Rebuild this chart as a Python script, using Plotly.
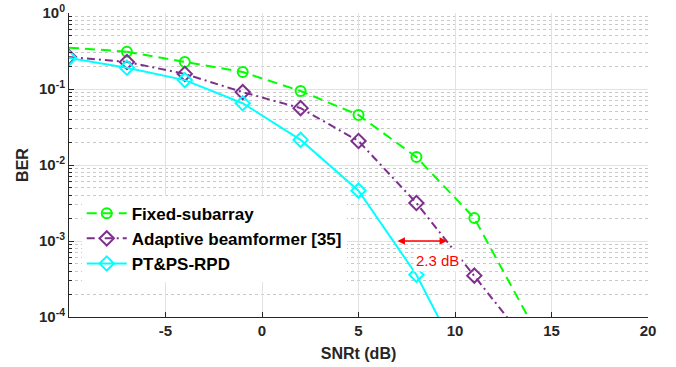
import plotly.graph_objects as go

# ---------------- data ----------------
snr_fixed = [-10, -7, -4, -1, 2, 5, 8, 11, 14]
ber_fixed = [0.35, 0.31, 0.227, 0.167, 0.094, 0.0455, 0.0127, 0.002, 8e-5]

snr_adaptive = [-10, -7, -4, -1, 2, 5, 8, 11, 14]
ber_adaptive = [0.263, 0.227, 0.158, 0.091, 0.056, 0.0207, 0.00316, 3.5e-4, 3.8e-5]

snr_proposed = [-10, -7, -4, -1, 2, 5, 8, 11]
ber_proposed = [0.255, 0.19, 0.131, 0.065, 0.0214, 0.0046, 3.6e-4, 1.2e-5]

names = ["Fixed-subarray", "Adaptive beamformer [35]", "PT&PS-RPD"]

x_ticks = [-5, 0, 5, 10, 15, 20]
x_ticktext = ["-5", "0", "5", "10", "15", "20"]
y_ticks = [1e-4, 1e-3, 1e-2, 1e-1, 1]
y_ticktext = ["10<sup>-4</sup>", "10<sup>-3</sup>", "10<sup>-2</sup>", "10<sup>-1</sup>", "10<sup>0</sup>"]

gap_label = "2.3 dB"
gap_from, gap_to, gap_level = 6.94, 9.59, 1e-3

# ---------------- figure ----------------
GREEN = "#00FF00"
PURPLE = "#7E2F8E"
CYAN = "#00FFFF"
FONT = "Liberation Sans, Arial, sans-serif"
AXC = "#262626"

fig = go.Figure()

# first green segment (no marker at the first point)
fig.add_trace(go.Scatter(
    x=snr_fixed[:2], y=ber_fixed[:2], mode="lines", showlegend=False,
    line=dict(color=GREEN, width=2, dash="10px,6px"), hoverinfo="skip"))

fig.add_trace(go.Scatter(
    x=snr_fixed[1:], y=ber_fixed[1:], mode="lines+markers", name=names[0],
    line=dict(color=GREEN, width=2, dash="10px,6px"),
    marker=dict(symbol="circle-open", size=10, color=GREEN, line=dict(width=2, color=GREEN))))

fig.add_trace(go.Scatter(
    x=snr_adaptive, y=ber_adaptive, mode="lines+markers", name=names[1],
    line=dict(color=PURPLE, width=2, dash="8px,4px,2px,4px"),
    marker=dict(symbol="diamond-open", size=11, color=PURPLE, line=dict(width=2, color=PURPLE))))

fig.add_trace(go.Scatter(
    x=snr_proposed, y=ber_proposed, mode="lines+markers", name=names[2],
    line=dict(color=CYAN, width=2),
    marker=dict(symbol="diamond-open", size=11, color=CYAN, line=dict(width=2, color=CYAN))))

minor_vals = [k * 10 ** e for e in range(-4, 0) for k in range(2, 10)]

fig.update_xaxes(
    range=[-10, 20], tickmode="array", tickvals=x_ticks, ticktext=x_ticktext,
    showgrid=True, gridcolor="#E2E2E2", gridwidth=1, zeroline=False,
    showline=True, linecolor=AXC, linewidth=1,
    ticks="inside", ticklen=5, tickcolor=AXC, automargin=False,
    tickfont=dict(family=FONT, size=15, color=AXC, weight="bold"),
    title=dict(text="SNRt (dB)", font=dict(family=FONT, size=16, color=AXC, weight="bold"), standoff=9),
)

fig.update_yaxes(
    type="log", range=[-4, 0], tickmode="array", tickvals=y_ticks, ticktext=y_ticktext,
    showgrid=True, gridcolor="#E2E2E2", gridwidth=1, zeroline=False,
    showline=True, linecolor=AXC, linewidth=1,
    ticks="inside", ticklen=5, tickcolor=AXC, automargin=False,
    ticklabeloverflow="allow",
    tickfont=dict(family=FONT, size=15, color=AXC, weight="bold"),
    minor=dict(tickmode="array", tickvals=minor_vals, ticks="inside", ticklen=3, tickcolor=AXC,
               showgrid=True, gridcolor="#C8C8C8", griddash="dot", gridwidth=1),
    title=dict(text="BER", font=dict(family=FONT, size=16, color=AXC, weight="bold"), standoff=6),
)

fig.add_annotation(
    x=gap_to, y=-3, ax=gap_from, ay=-3, xref="x", yref="y", axref="x", ayref="y",
    text="", showarrow=True, arrowhead=2, startarrowhead=2, arrowside="end+start",
    arrowcolor="red", arrowwidth=1.5, arrowsize=1, startarrowsize=1)

fig.add_annotation(
    x=9.07, y=-3.26, xref="x", yref="y", text=gap_label, showarrow=False,
    font=dict(family=FONT, size=15, color="red"), bgcolor="white", borderpad=2)

fig.update_layout(
    width=676, height=367,
    margin=dict(l=69, r=28, t=13, b=50),
    paper_bgcolor="white", plot_bgcolor="white",
    legend=dict(x=0.022, y=0.399, xanchor="left", yanchor="top",
                bgcolor="white", borderwidth=0,
                font=dict(family=FONT, size=17, color="black", weight="bold"),
                tracegroupgap=0, itemwidth=40),
    showlegend=True,
)

fig.write_html("out.html", config={"displayModeBar": False},
               post_script="document.body.style.margin='0px';")
